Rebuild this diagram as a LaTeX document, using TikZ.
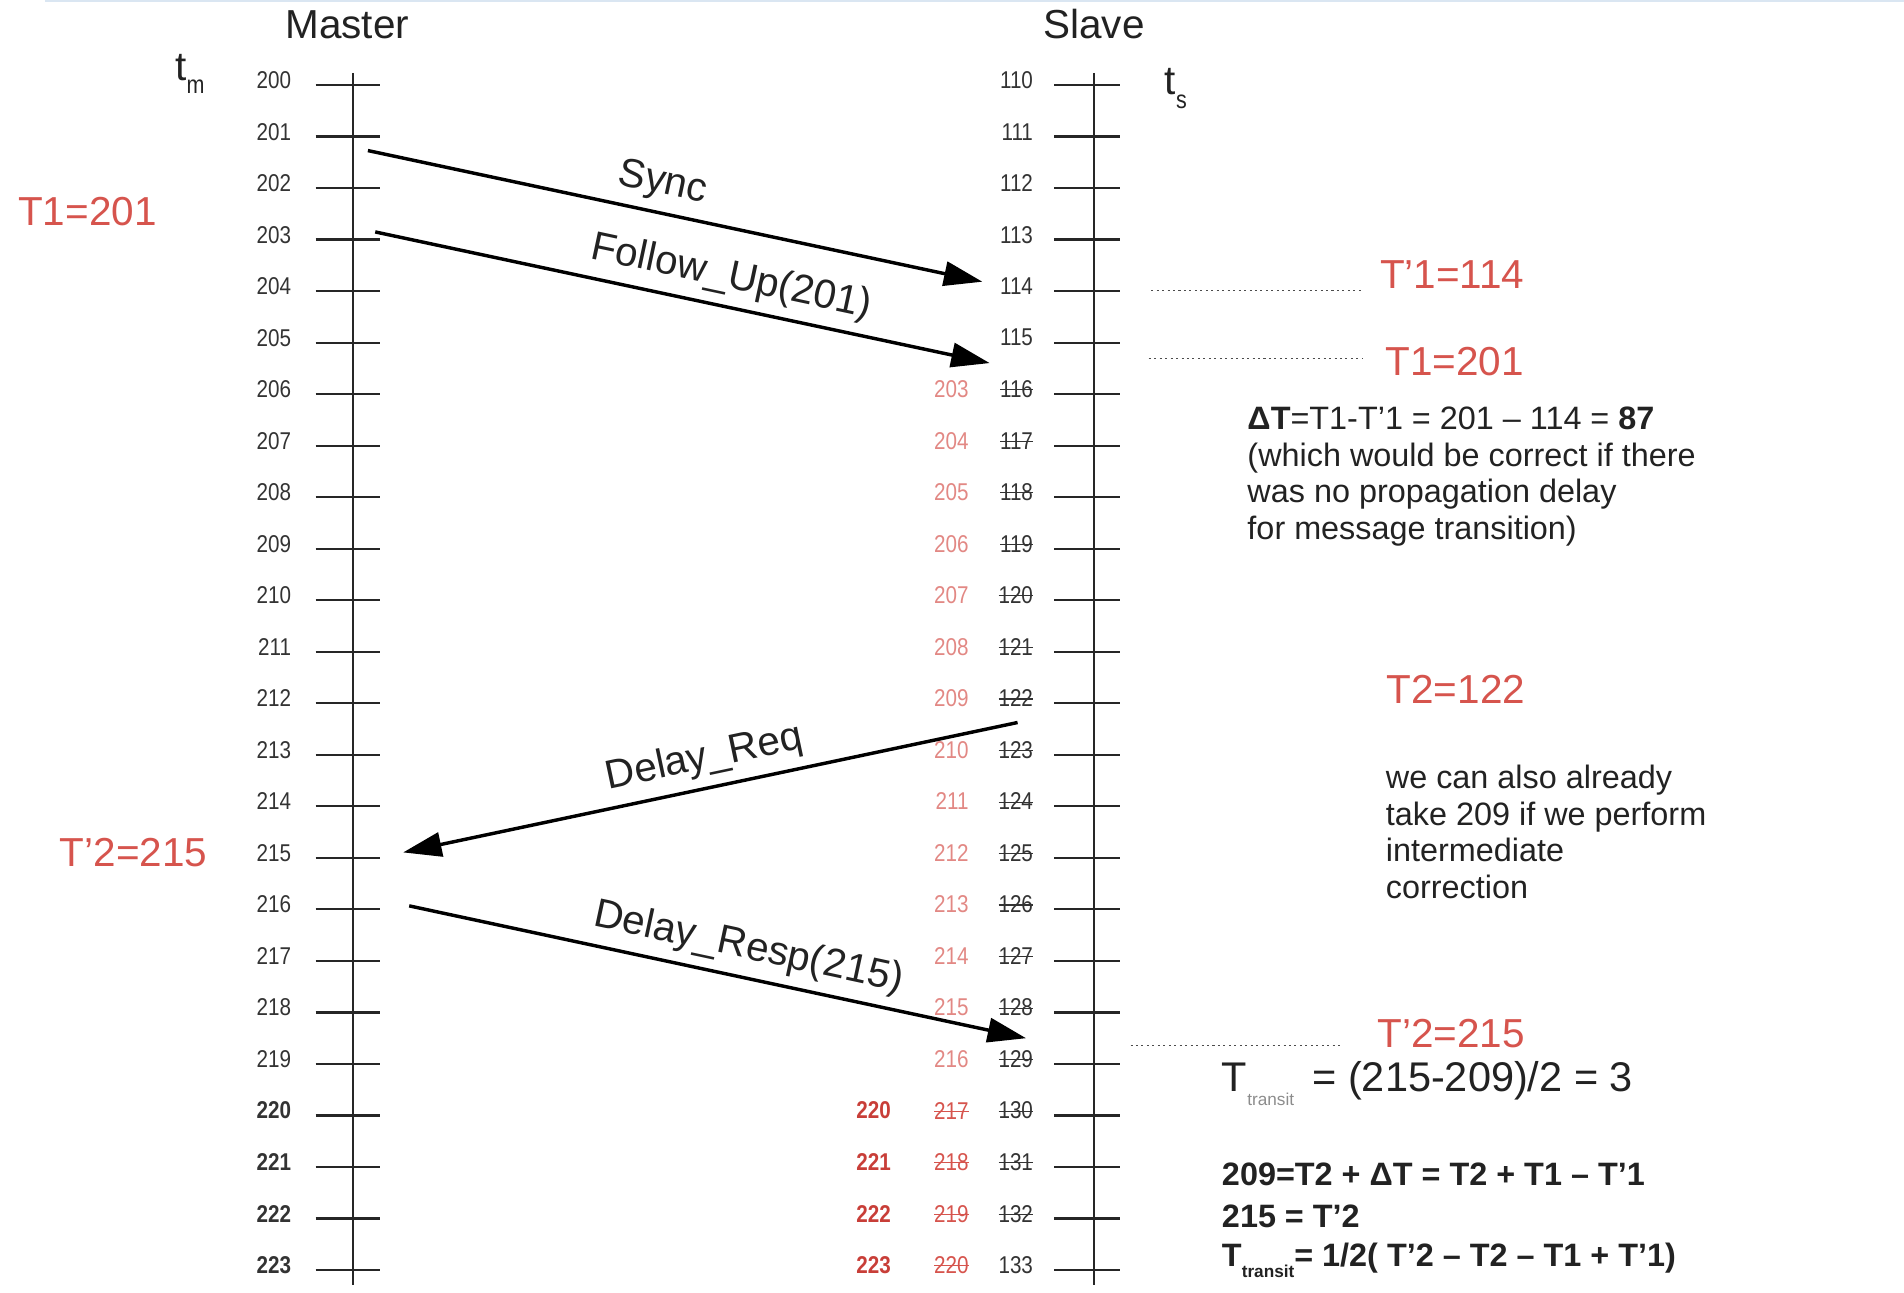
\documentclass[tikz,border=0pt]{standalone}
\usepackage{fontspec}
\setmainfont{Liberation Sans}
\newfontfamily\narrowfont[FakeStretch=0.85]{Liberation Sans}
\usetikzlibrary{arrows.meta}
\definecolor{tred}{RGB}{214, 84, 77}
\definecolor{pale}{RGB}{226, 136, 132}
\definecolor{deep}{RGB}{200, 62, 56}
\definecolor{ink}{RGB}{34, 34, 34}
\definecolor{framesky}{RGB}{218, 230, 242}
\newcommand{\strikenum}[1]{\setbox0\hbox{#1}\rlap{\rule[0.3em]{\wd0}{0.55pt}}\box0}

\begin{document}
\begin{tikzpicture}[x=0.6pt, y=-0.6pt,
    axis/.style={line width=1.1pt, black!85},
    tick/.style={line width=1.1pt, black!85},
    msg/.style={line width=1.7pt, -{Triangle[length=19pt, width=12pt]}},
    msglabel/.style={font=\fontsize{20}{24}\selectfont, text=ink, sloped, above, inner xsep=1pt, inner ysep=4.5pt},
    num/.style={font=\narrowfont\fontsize{12}{14}\selectfont, text=black!80, anchor=east, inner sep=0pt},
    bignum/.style={num, font=\narrowfont\bfseries\fontsize{12}{14}\selectfont},
    stamp/.style={font=\fontsize{20}{24}\selectfont, text=tred, inner sep=0pt},
    guide/.style={line width=0.7pt, black!70, dash pattern=on 1pt off 1.7pt},
    note/.style={font=\fontsize{16}{18}\selectfont, text=ink, align=left, anchor=north west, inner sep=0pt},
    formula/.style={font=\bfseries\fontsize{16}{18}\selectfont, text=ink, anchor=base west, inner sep=0pt}]
\useasboundingbox (0,0) rectangle (1568,1064);
\draw[framesky, line width=1.2pt] (37,0.6) -- (1568,0.6);

% headers
\node[font=\fontsize{20}{24}\selectfont, text=ink, inner sep=0pt] (master) at (286,20) {Master};
\node[font=\fontsize{20}{24}\selectfont, text=ink, inner sep=0pt] (slave)  at (901,20) {Slave};
\node[font=\fontsize{20}{24}\selectfont, text=ink, inner sep=0pt, anchor=base west] (tm) at (144,66)
     {t\raisebox{-6.6pt}{\narrowfont\fontsize{12.5}{14}\selectfont m}};
\node[font=\fontsize{20}{24}\selectfont, text=ink, inner sep=0pt, anchor=base west] (ts) at (959,78)
     {t\raisebox{-6.6pt}{\narrowfont\fontsize{12.5}{14}\selectfont s}};

% time axes
\draw[axis] (291,60) -- (291,1058);
\draw[axis] (901,60) -- (901,1058);
\foreach \i in {0,...,23} {
    \pgfmathsetmacro{\ty}{70+42.43*\i}
    \draw[tick] (260,\ty) -- (313,\ty);
    \draw[tick] (868,\ty) -- (922,\ty);
}

% master clock
\foreach \i in {0,...,19} {
    \pgfmathtruncatemacro{\v}{200+\i}
    \node[num] (m\v) at (240,{66+42.43*\i}) {\v};
}
\foreach \i in {20,...,23} {
    \pgfmathtruncatemacro{\v}{200+\i}
    \node[bignum] (m\v) at (240,{66+42.43*\i}) {\v};
}

% slave clock, before and after correction
\foreach \i in {0,...,5} {
    \pgfmathtruncatemacro{\v}{110+\i}
    \node[num] (s\v) at (851,{66+42.43*\i}) {\v};
}
\foreach \i in {6,...,22} {
    \pgfmathtruncatemacro{\v}{110+\i}
    \node[num] (s\v) at (851,{66+42.43*\i}) {\strikenum{\v}};
}
\node[num] (s133) at (851,{66+42.43*23}) {133};
\foreach \i in {6,...,19} {
    \pgfmathtruncatemacro{\v}{197+\i}
    \node[num, text=pale] (c\v) at (798,{66+42.43*\i}) {\v};
}
\foreach \i in {20,...,23} {
    \pgfmathtruncatemacro{\v}{197+\i}
    \node[num, text=tred] (c\v) at (798,{66+42.43*\i}) {\strikenum{\v}};
}
\foreach \i in {20,...,23} {
    \pgfmathtruncatemacro{\v}{200+\i}
    \node[bignum, text=deep] (k\v) at (734,{66+42.43*\i}) {\v};
}

% messages
\coordinate (syncA)  at (303,124);  \coordinate (syncB)  at (809,232);
\coordinate (fupA)   at (309,191);  \coordinate (fupB)   at (815,299);
\coordinate (dreqA)  at (838,595);  \coordinate (dreqB)  at (332,702);
\coordinate (drespA) at (337,746);  \coordinate (drespB) at (845,855);
\draw[msg] (syncA)  -- node[msglabel, pos=0.47] (lsync)  {Sync} (syncB);
\draw[msg] (fupA)   -- node[msglabel, pos=0.57] (lfup)   {Follow\_Up(201)} (fupB);
\draw[msg] (dreqA)  -- node[msglabel, pos=0.50] (ldreq)  {Delay\_Req} (dreqB);
\draw[msg] (drespA) -- node[msglabel, pos=0.54] (ldresp) {Delay\_Resp(215)} (drespB);

% time stamps
\node[stamp] (t1m)  at (72,174)   {T1=201};
\node[stamp] (t2pm) at (110,702)  {T’2=215};
\node[stamp] (t1ps) at (1196,226) {T’1=114};
\node[stamp] (t1s)  at (1198,298) {T1=201};
\node[stamp] (t2s)  at (1199,568) {T2=122};
\node[stamp] (t2ps) at (1195,851) {T’2=215};

\coordinate (g1a) at (948,239);  \coordinate (g1b) at (1123,239);
\coordinate (g2a) at (946,295);  \coordinate (g2b) at (1122,295);
\coordinate (g3a) at (931,861);  \coordinate (g3b) at (1106,861);
\draw[guide] (g1a) -- (g1b);
\draw[guide] (g2a) -- (g2b);
\draw[guide] (g3a) -- (g3b);

% notes
\node[note] (offset) at (1027,335) {\textbf{ΔT}=T1-T’1 = 201 – 114 = \textbf{87}\\(which would be correct if there\\was no propagation delay\\for message transition)};
\node[note] (early) at (1141,630) {we can also already\\take 209 if we perform\\intermediate\\correction};
\node[font=\fontsize{20.5}{24}\selectfont, text=ink, anchor=base west, inner sep=0pt] (transit) at (1006,899)
     {T\raisebox{-6.6pt}{\fontsize{8.5}{10}\selectfont\color{black!45}transit}\hspace{9pt}= (215-209)/2 = 3};
\node[formula] (rel1) at (1006,976)    {209=T2 + ΔT = T2 + T1 – T’1};
\node[formula] (rel2) at (1006,1010.5) {215 = T’2};
\node[formula] (rel3) at (1006,1043.2) {T\raisebox{-5.4pt}{\fontsize{8.5}{10}\selectfont transit}= 1/2( T’2 – T2 – T1 + T’1)};
\end{tikzpicture}
\end{document}
